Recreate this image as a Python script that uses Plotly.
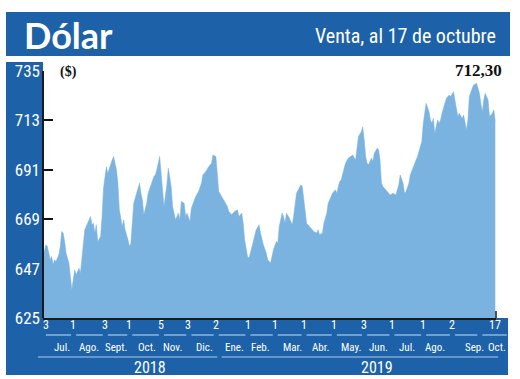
import plotly.graph_objects as go

# ---- data (trading-day index since 3 Jul 2018, CLP per USD, venta) ----
dia = [0,2,3,5,6,7,8,9,11,12,13,14,15,16,18,19,20,21,22,23,25,26,27,28,29,30,33,34,35,36,37,38,40,41,42,44,45,48,49,51,52,53,55,56,57,59,60,61,62,63,65,67,68,69,70,72,73,75,77,78,79,81,82,83,84,86,87,89,90,92,94,95,96,98,99,100,102,103,105,106,108,110,111,113,115,117,118,120,121,122,124,126,128,129,131,133,135,136,138,139,140,142,143,144,145,147,148,150,151,153,155,156,158,159,160,162,163,164,166,167,168,169,171,173,174,176,177,179,180,181,182,183,185,187,188,190,191,192,194,195,197,198,200,201,203,204,205,206,207,209,210,212,214,215,217,218,219,221,222,223,224,225,226,228,229,230,232,233,234,235,236,239,241,243,245,247,248,250,251,252,254,255,257,259,260,262,263,264,266,268,269,270,271,272,274,275,276,277,279,280,282,283,285,286,288,289,291,292,294,295,296,298,299,301,303,304,305,306,307,309,310,312,313,314]
valor = [652.4,657.6,656.9,650.9,652.4,648.7,650.9,650.2,653.2,656.9,663.5,662.8,659.1,653.9,649.5,643.5,637.6,642.0,646.5,644.3,647.2,645.0,650.9,656.9,664.3,665.8,670.2,666.5,667.2,662.8,666.5,659.1,661.3,670.2,682.8,692.4,689.5,695.4,696.9,691.0,685.0,673.2,665.8,668.7,664.3,659.8,656.9,658.3,667.2,676.1,680.6,685.0,680.6,677.6,671.0,676.1,680.6,684.3,688.0,688.7,691.0,696.9,688.0,680.6,674.7,684.3,691.7,683.6,674.7,668.7,671.7,668.7,676.9,676.1,670.2,671.7,668.0,673.9,677.6,679.1,681.3,685.0,688.7,690.2,692.4,693.9,697.6,696.9,689.5,681.3,679.1,676.9,674.7,672.4,671.0,672.4,673.2,670.2,671.7,667.2,659.8,652.4,651.7,653.9,656.9,661.3,664.3,666.5,662.8,657.6,653.9,650.9,649.5,652.4,655.4,659.1,658.3,665.8,671.7,670.2,667.2,671.7,669.5,666.5,670.2,680.6,682.1,684.3,683.6,677.6,673.2,667.2,665.8,664.3,663.5,662.8,664.3,662.1,662.8,667.2,671.7,676.1,679.1,680.6,682.1,680.6,683.6,685.8,686.5,692.4,693.9,696.2,696.9,697.6,695.4,700.6,705.8,708.0,710.2,704.3,696.9,693.9,693.2,696.2,694.7,698.4,700.6,699.9,695.4,685.0,683.6,681.3,679.8,680.6,679.8,684.3,688.7,685.0,680.6,681.3,685.0,688.7,692.4,695.4,696.9,702.1,703.6,711.7,720.6,716.9,713.2,711.7,713.9,707.3,713.2,711.7,713.2,716.2,720.6,722.8,724.3,723.6,725.8,722.1,714.7,716.2,713.9,715.4,708.8,713.2,723.6,727.3,728.8,729.5,725.1,720.6,716.9,722.1,725.1,722.1,714.7,716.2,717.7,712.3]

y_ticks = [625, 647, 669, 691, 713, 735]
inicio_mes = [0, 21, 43, 60, 82, 101, 120, 142, 161, 181, 202, 223, 242, 264, 284, 314]
dia_label = ["3", "1", "3", "1", "5", "3", "2", "1", "1", "1", "1", "3", "1", "1", "2", "17"]
meses = ["Jul.", "Ago.", "Sept.", "Oct.", "Nov.", "Dic.", "Ene.", "Feb.", "Mar.", "Abr.",
         "May.", "Jun.", "Jul.", "Ago.", "Sep.", "Oct."]
mes_centro = [13, 32, 51, 72, 90, 112, 133, 151, 173, 193, 214, 233, 253, 272, 299.5, 315]
mes_limites = [0, 21, 43, 60, 82, 101, 120, 142, 161, 181, 202, 223, 242, 264, 284, 303, 323.5]
anios = ["2018", "2019"]
anio_centro = [74, 232]
anio_limites = [(-3.5, 121), (124, 316)]
ultimo = "712,30"

# ---- layout geometry (pixels) ----
W, H = 520, 379
L, R, T, B = 43, 496, 71, 318
XMAX = 314.5
BLUE = "#1d62a8"
FILL = "#7bb3e0"
LIGHT = "#a9c9ec"
NARROW = "Liberation Sans Narrow, Roboto Condensed, DejaVu Sans Condensed, Roboto, sans-serif"


def px(x):
    return (x - L) / (R - L)


def py(y):
    return (B - y) / (B - T)


def ix(i):
    return i / XMAX


fig = go.Figure()
fig.add_trace(go.Scatter(x=dia, y=valor, mode="lines", fill="tozeroy",
                         line=dict(color=FILL, width=0.5), fillcolor=FILL,
                         hoverinfo="skip", showlegend=False))

shapes = [
    dict(type="rect", xref="paper", yref="paper", x0=px(6), x1=px(510), y0=py(56), y1=py(12),
         fillcolor=BLUE, line=dict(width=0), layer="below"),
    dict(type="rect", xref="paper", yref="paper", x0=px(6), x1=px(43), y0=py(318), y1=py(62),
         fillcolor=BLUE, line=dict(width=0), layer="below"),
    dict(type="rect", xref="paper", yref="paper", x0=px(6), x1=px(508), y0=py(375), y1=py(318),
         fillcolor=BLUE, line=dict(width=0), layer="below"),
    dict(type="line", xref="paper", yref="paper", x0=0, x1=0, y0=0, y1=1,
         line=dict(color="#1a1a1a", width=2), layer="above"),
    dict(type="line", xref="paper", yref="paper", x0=1, x1=1, y0=0, y1=py(311),
         line=dict(color="#1a1a1a", width=1.5), layer="above"),
]
for a, b in zip(mes_limites[:-1], mes_limites[1:]):
    shapes.append(dict(type="line", xref="paper", yref="paper", x0=ix(a + 2), x1=ix(b - 1.5),
                       y0=py(335), y1=py(335), line=dict(color=LIGHT, width=1.2)))
for a, b in anio_limites:
    shapes.append(dict(type="line", xref="paper", yref="paper", x0=ix(a), x1=ix(b),
                       y0=py(357), y1=py(357), line=dict(color=LIGHT, width=1.2)))

ann = [
    dict(text="<b>Dólar</b>", x=px(22), y=py(35), xanchor="left", yanchor="middle",
         font=dict(family="Lato, Open Sans, sans-serif", size=36, color="white")),
    dict(text="Venta, al 17 de octubre", x=px(498), y=py(36), xanchor="right", yanchor="middle",
         font=dict(family=NARROW, size=20, color="white")),
    dict(text="<b>($)</b>", x=px(58), y=py(72), xanchor="left", yanchor="middle",
         font=dict(family="Liberation Serif, serif", size=14, color="#111111")),
    dict(text="<b>" + ultimo + "</b>", x=px(504), y=py(70), xanchor="right", yanchor="middle",
         font=dict(family="Liberation Serif, serif", size=17, color="#111111")),
]
for k, (d, c) in enumerate(zip(dia_label, inicio_mes)):
    ann.append(dict(text=d, x=ix(c) if k else px(41), y=py(325),
                    xanchor="center" if k else "left", yanchor="middle",
                    font=dict(family=NARROW, size=12, color="white")))
for m, c in zip(meses, mes_centro):
    ann.append(dict(text=m, x=ix(c), y=py(347), xanchor="center", yanchor="middle",
                    font=dict(family=NARROW, size=11, color="white")))
for t, c in zip(anios, anio_centro):
    ann.append(dict(text=t, x=ix(c), y=py(367), xanchor="center", yanchor="middle",
                    font=dict(family=NARROW, size=16, color="white")))
for a in ann:
    a.update(xref="paper", yref="paper", showarrow=False)

fig.update_layout(
    width=W, height=H, margin=dict(l=L, r=W - R, t=T, b=H - B),
    paper_bgcolor="white", plot_bgcolor="white",
    shapes=shapes, annotations=ann, showlegend=False,
    xaxis=dict(range=[0, XMAX], showticklabels=False, ticks="",
               showgrid=False, zeroline=False, showline=True, linecolor="#1a1a1a", linewidth=2,
               layer="above traces", fixedrange=True),
    yaxis=dict(range=[625, 735], tickvals=y_ticks, ticks="inside", ticklen=10, tickwidth=2,
               tickcolor="#111111", showgrid=False, zeroline=False, showline=False,
               tickfont=dict(family=NARROW, size=17, color="white"), layer="below traces",
               ticklabelstandoff=2, fixedrange=True),
)

fig.write_html("out.html", config={"displayModeBar": False},
               post_script="document.body.style.margin='0';")
